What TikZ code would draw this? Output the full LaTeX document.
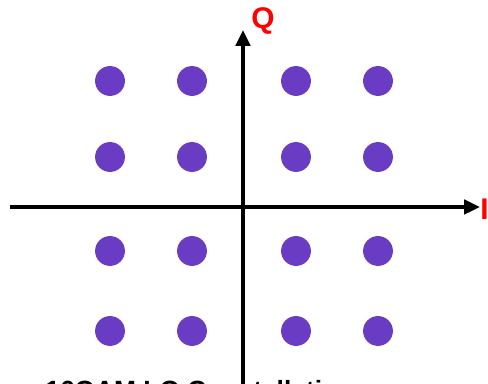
\documentclass[tikz,border=0pt]{standalone}
\usepackage{fontspec}
\setmainfont{Liberation Sans}
\usetikzlibrary{arrows.meta}
\definecolor{symbolc}{RGB}{106,60,196}

\begin{document}
\begin{tikzpicture}[
    x=0.02cm, y=-0.02cm,
    axis/.style={line width=2.2pt, -{Triangle[length=9pt, width=8pt]}},
    symbol/.style={circle, fill=symbolc, minimum size=17pt, inner sep=0pt},
    axlabel/.style={text=red, font=\bfseries\fontsize{17}{19}\selectfont, inner sep=0pt}
]
\useasboundingbox (0,0) rectangle (488,384);
\clip (0,0) rectangle (488,384);

% axes
\coordinate (west) at (10,207);
\coordinate (east) at (480,207);
\coordinate (south) at (243,400);
\coordinate (north) at (243,30);
\draw[axis] (west) -- (east);
\draw[axis] (south) -- (north);
\node[axlabel, anchor=west] (ilabel) at (480,209) {I};
\node[axlabel] (qlabel) at (263,21) {Q};

% constellation points
\foreach \r/\y in {1/81, 2/157, 3/251, 4/331}
  \foreach \c/\x in {1/110, 2/192, 3/296, 4/378}
    \node[symbol] (s\r\c) at (\x,\y) {};

% caption (cut off at the lower edge)
\node[anchor=north west, font=\bfseries\fontsize{15}{17}\selectfont, inner sep=0pt] (caption) at (45,380) {16QAM I-Q Constellation};
\end{tikzpicture}
\end{document}
